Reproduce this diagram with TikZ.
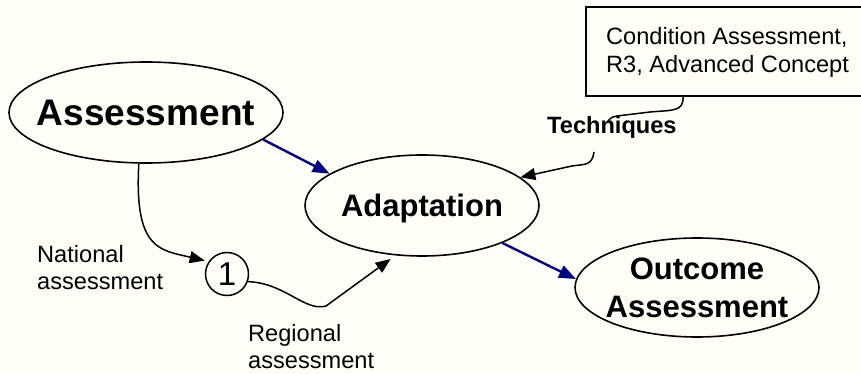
\documentclass[tikz,border=0pt]{standalone}
\usepackage{fontspec}
\setmainfont{Liberation Sans}
\usetikzlibrary{shapes.geometric,arrows.meta,calc}
\definecolor{paper}{RGB}{255,255,247}
\definecolor{flowblue}{RGB}{0,0,128}
\begin{document}
\begin{tikzpicture}[x=1pt,y=-1pt,
  stage/.style={ellipse, draw, line width=1.6pt, inner xsep=-40pt, inner ysep=0pt, align=center},
  flow/.style={draw=flowblue, line width=2.4pt, -{Triangle[length=17pt,width=13pt]}},
  link/.style={draw=black, line width=1.5pt, -{Triangle[length=15pt,width=12pt]}},
  note/.style={inner sep=0pt, anchor=base west, font=\fontsize{23.6}{28}\selectfont},
  boldnote/.style={note, font=\bfseries\fontsize{23.6}{28}\selectfont}]
  % page
  \fill[paper] (0,0) rectangle (861,374);
  \useasboundingbox (0,0) rectangle (861,374);

  % main stages
  \node[stage, minimum width=274, minimum height=101,
        font=\bfseries\fontsize{37}{44}\selectfont] (assess) at (146,112.5) {Assessment};
  \node[stage, minimum width=234, minimum height=101, text depth=0pt,
        font=\bfseries\fontsize{31}{38}\selectfont] (adapt) at (422,205.5) {Adaptation};
  \node[stage, minimum width=244, minimum height=99,
        font=\bfseries\fontsize{31}{38}\selectfont] (outcome) at (697,287.5) {Outcome\\Assessment};

  % intermediate step
  \node[circle, draw, line width=1.5pt, minimum size=43, inner sep=0pt,
        font=\fontsize{33}{38}\selectfont] (one) at (227,274) {1};

  % techniques source box (runs off the right edge)
  \node[draw, line width=1.6pt, minimum width=285, minimum height=89,
        anchor=north west, inner sep=0pt] (cbox) at (585,6) {};
  \node[note] (cond1) at (606,45) {Condition Assessment,};
  \node[note] (cond2) at (606,73) {R3, Advanced Concept};

  % labels
  \node[boldnote] (tech) at (547,134) {Techniques};
  \node[note] (nat1) at (37,262) {National};
  \node[note] (nat2) at (37,289) {assessment};
  \node[note] (reg1) at (248,341) {Regional};
  \node[note] (reg2) at (248,368) {assessment};

  % main flow
  \draw[flow] (assess.-13) -- (adapt.161);
  \draw[flow] (adapt.-25) -- (outcome.176);

  % assessment routes
  \draw[link, shorten >=4pt] (assess.262) .. controls (134,250) and (160,250) .. (one.146);
  \draw[link, shorten >=6pt] (one.-20) .. controls (285,283) and (305,312) .. (326,306)
        -- (adapt.-118);

  % techniques connector, interrupted by its label
  \draw[link] ($(cbox.south west)+(98,0)$) .. controls (684,112) and (672,110) .. (650,112)
        -- (617,116) .. controls (611,117) and (609,119) .. (607,123)
        (594,152) .. controls (592,166) and (585,164) .. (572,166) -- (adapt.16);
\end{tikzpicture}
\end{document}
